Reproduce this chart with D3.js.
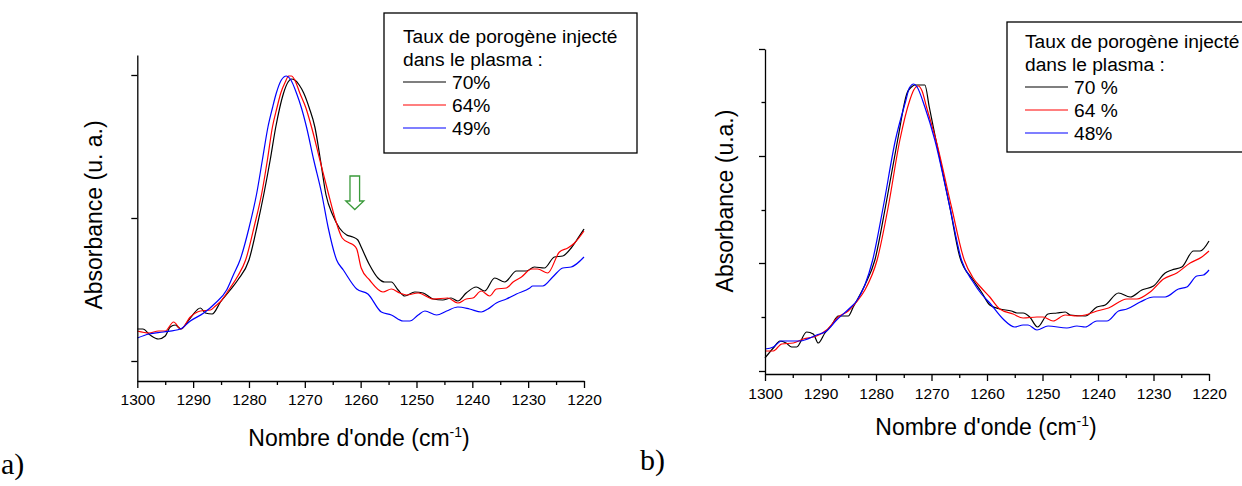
<!DOCTYPE html>
<html>
<head>
<meta charset="utf-8">
<script src="https://cdn.jsdelivr.net/npm/d3@7"></script>
<style>
  body { margin: 0; background: #fff; }
  svg { display: block; }
  text { font-family: "Liberation Sans", Arial, Helvetica, sans-serif; fill: #000; }
  text.letter { font-family: "Liberation Serif", "DejaVu Serif", serif; }
</style>
</head>
<body>
<svg id="chart" width="1242" height="486"></svg>
<script>
// ---- Panel a) : Si-CH3 band, three porogen loadings (70 %, 64 %, 49 %) ----
const aBlackWn  = [1300,1299,1297.7,1296.2,1295,1294.1,1293.2,1292.2,1290.5,1288.7,1287.8,1286.6,1285.1,1283.5,1282,1280,1278.5,1277.3,1276.2,1275.2,1274.5,1273.8,1273,1272.4,1271.8,1271,1270.2,1269.2,1268.2,1267.2,1266.2,1265,1263.8,1262.5,1261.4,1260.5,1259.9,1258.4,1256.9,1255.7,1254.5,1253.3,1252.1,1250.3,1248.8,1247,1245.3,1243.8,1242.6,1241.1,1239.3,1237.8,1236,1234.2,1232.1,1230.3,1228.9,1227.1,1225.3,1223.8,1222.3,1221.3,1220];
const aBlackAbs = [.052,.052,.046,.042,.045,.054,.056,.052,.063,.073,.068,.067,.079,.090,.101,.121,.156,.188,.221,.254,.273,.288,.299,.302,.301,.296,.288,.273,.254,.221,.186,.166,.153,.146,.144,.141,.134,.116,.103,.099,.099,.091,.085,.089,.088,.082,.081,.083,.080,.088,.094,.090,.103,.099,.110,.110,.114,.113,.124,.125,.133,.141,.152];

const aRedWn  = [1300,1297.9,1296.2,1295,1293.5,1292.2,1290.5,1288.7,1286.9,1286,1285,1283.5,1282,1280.6,1279,1277.7,1276.7,1275.8,1275,1274.3,1273.5,1272.9,1272.4,1271.8,1270.9,1269.8,1268.8,1267.3,1265.8,1264.5,1263.3,1262,1261.3,1260.7,1259.9,1258.4,1256,1254.5,1253,1251.8,1249.7,1247,1244.4,1242.6,1241.1,1239.9,1238.4,1236.9,1235.7,1233.9,1232.7,1231.2,1229.4,1228.3,1226.5,1224.4,1222.9,1221.7,1220];
const aRedAbs = [.050,.048,.050,.050,.059,.052,.064,.070,.071,.075,.080,.092,.105,.121,.156,.188,.221,.254,.273,.288,.299,.305,.305,.301,.288,.273,.254,.221,.188,.161,.143,.138,.136,.132,.113,.101,.089,.092,.088,.086,.088,.082,.083,.078,.082,.083,.090,.085,.092,.093,.099,.104,.112,.112,.108,.129,.133,.138,.150];

const aBlueWn  = [1300,1297.9,1295.3,1292.3,1290.5,1288.1,1286,1284,1282.8,1281.6,1280,1278.6,1277.6,1276.6,1275.8,1275.1,1274.2,1273.3,1272.6,1271.5,1270.6,1269.7,1268.4,1267,1265.8,1264.3,1263.1,1260.7,1258.7,1256.3,1254.5,1252.4,1251.2,1249.7,1248.5,1246.4,1244.6,1242.6,1240.5,1238.4,1237.2,1235.7,1233.9,1232.1,1229.7,1229.2,1227.4,1225.6,1223.8,1222.3,1220];
const aBlueAbs = [.043,.047,.049,.052,.060,.068,.078,.091,.106,.121,.153,.188,.221,.254,.273,.288,.301,.305,.302,.288,.273,.254,.221,.188,.153,.121,.111,.092,.087,.069,.066,.060,.060,.066,.070,.066,.070,.074,.072,.069,.072,.078,.082,.087,.093,.095,.095,.104,.113,.114,.124];

// ---- Panel b) : same band, porogen loadings 70 %, 64 %, 48 % ----
const bBlackWn  = [1300,1298.5,1297.3,1296.2,1295.2,1294.3,1292.5,1291.3,1290.4,1289.2,1288,1286.8,1285,1284.1,1283.2,1282,1280.2,1278.3,1276.1,1274.4,1273.6,1273,1271.2,1270.4,1269.2,1266.7,1264.9,1262.5,1261,1259.5,1257.7,1255.6,1254.6,1253.5,1252.3,1250.9,1249,1247.4,1245.9,1245,1242.3,1240.2,1238.7,1236.3,1234.2,1232.1,1230,1227.9,1226.7,1224.9,1222.8,1221.6,1220];
const bBlackAbs = [.016,.026,.033,.031,.027,.027,.042,.040,.031,.041,.049,.058,.058,.067,.076,.089,.114,.167,.234,.281,.287,.289,.289,.267,.234,.167,.117,.094,.082,.069,.065,.063,.061,.061,.057,.047,.060,.061,.062,.059,.058,.067,.069,.081,.077,.084,.088,.101,.104,.107,.123,.123,.133];

const bRedWn  = [1300,1298.5,1297,1294.9,1293.1,1290.7,1288.9,1286.8,1285,1283.5,1282,1279.8,1277.8,1275.7,1273.9,1273.2,1272.4,1271.7,1270.9,1269.2,1266.4,1264.1,1262.5,1261,1259.5,1257.7,1255.3,1253.5,1251,1249.9,1248.1,1245.9,1243.8,1242.3,1240.2,1238.1,1234.8,1233,1230.6,1228.2,1225.8,1223.4,1221.3,1220];
const bRedAbs = [.023,.023,.030,.031,.035,.038,.044,.057,.063,.072,.084,.114,.167,.234,.274,.284,.288,.283,.267,.234,.167,.114,.096,.086,.077,.065,.060,.056,.057,.057,.053,.059,.058,.059,.063,.066,.075,.075,.082,.095,.101,.111,.117,.123];

const bBlueWn  = [1300,1298.5,1297,1293.7,1290.7,1288.9,1287.1,1284.7,1283.5,1282,1280.6,1278.7,1276.5,1274.6,1274,1273.2,1272.6,1271.2,1269.4,1266.7,1264.6,1262.5,1261,1259.5,1257.1,1255,1253.5,1252.6,1251,1249,1245.6,1243.8,1242.3,1240.2,1238.4,1236.3,1234.8,1232.4,1230,1227.9,1225.5,1224,1222.2,1221,1220];
const bBlueAbs = [.025,.027,.033,.033,.039,.043,.054,.066,.073,.089,.114,.167,.234,.274,.286,.290,.287,.267,.234,.167,.114,.092,.080,.071,.055,.047,.049,.049,.044,.048,.046,.048,.047,.053,.053,.063,.065,.072,.077,.077,.085,.087,.098,.099,.104];

// Axis tick values
const wnMajorTicks = [1300,1290,1280,1270,1260,1250,1240,1230,1220];
const wnMinorTicks = [1295,1285,1275,1265,1255,1245,1235,1225];
const aAbsTicks = [0.020, 0.163, 0.306];
const bAbsMajorTicks = [0.003, 0.111, 0.218, 0.325];
const bAbsMinorTicks = [0.057, 0.164, 0.272];

// Legend texts
const legendTitle = ["Taux de porogène injecté", "dans le plasma :"];
const aLegendLabels = ["70%", "64%", "49%"];
const bLegendLabels = ["70 %", "64 %", "48%"];
const seriesColors = ["#000000", "#ff0000", "#0000ff"];

const svg = d3.select("#chart");

function drawPanel(p) {
  const g = svg.append("g");
  const x = d3.scaleLinear().domain([1300, 1220]).range(p.xRange);
  const y = d3.scaleLinear().domain(p.yDomain).range(p.yRange);

  // curves
  const line = d3.line()
    .x(d => x(d[0]))
    .y(d => y(d[1]))
    .curve(d3.curveMonotoneX);
  p.series.forEach((s, i) => {
    const pts = s.wn.map((w, k) => [w, s.abs[k]]);
    g.append("path")
      .attr("d", line(pts))
      .attr("fill", "none")
      .attr("stroke", seriesColors[i])
      .attr("stroke-width", 1.2)
      .attr("stroke-linejoin", "round");
  });

  // x axis: major with labels, minor without
  const xMajor = d3.axisBottom(x).tickValues(wnMajorTicks)
    .tickSize(7).tickSizeOuter(0).tickPadding(p.xPad).tickFormat(d3.format("d"));
  const xMinor = d3.axisBottom(x).tickValues(wnMinorTicks)
    .tickSize(4).tickSizeOuter(0).tickFormat("");
  const gx = g.append("g").attr("transform", `translate(0,${p.yRange[0]})`).call(xMajor);
  g.append("g").attr("transform", `translate(0,${p.yRange[0]})`).call(xMinor).select(".domain").remove();
  gx.selectAll("text").attr("font-size", 15.5).attr("font-family", null);

  // y axis
  const yMajor = d3.axisLeft(y).tickValues(p.yMajor).tickSize(6).tickSizeOuter(0).tickFormat("");
  g.append("g").attr("transform", `translate(${p.xRange[0]},0)`).call(yMajor);
  if (p.yMinor) {
    const yMinor = d3.axisLeft(y).tickValues(p.yMinor).tickSize(3.5).tickSizeOuter(0).tickFormat("");
    g.append("g").attr("transform", `translate(${p.xRange[0]},0)`).call(yMinor).select(".domain").remove();
  }
  g.selectAll(".domain, .tick line").attr("stroke", "#000").attr("stroke-width", 1.3);

  // x title with superscript
  const xt = g.append("text")
    .attr("x", p.xTitle[0]).attr("y", p.xTitle[1])
    .attr("text-anchor", "middle").attr("font-size", 23);
  xt.append("tspan").text("Nombre d'onde (cm");
  xt.append("tspan").attr("dy", -9).attr("font-size", 14).text("-1");
  xt.append("tspan").attr("dy", 9).text(")");

  // y title
  g.append("text")
    .attr("transform", `translate(${p.yTitle[0]},${p.yTitle[1]}) rotate(-90)`)
    .attr("text-anchor", "middle").attr("font-size", 23)
    .text(p.yLabel);

  // legend box
  const lg = g.append("g").attr("transform", `translate(${p.legend[0]},${p.legend[1]})`);
  lg.append("rect").attr("x", 0).attr("y", 0)
    .attr("width", p.legend[2]).attr("height", p.legend[3])
    .attr("fill", "#fff").attr("stroke", "#000").attr("stroke-width", 1.3);
  legendTitle.forEach((t, i) => {
    lg.append("text").attr("x", p.legendPad).attr("y", p.legendTop + i * 23)
      .attr("font-size", 19.2).text(t);
  });
  p.labels.forEach((t, i) => {
    const yy = p.legendTop + (i + 2) * 23;
    lg.append("line")
      .attr("x1", p.legendPad).attr("x2", p.legendPad + 43)
      .attr("y1", yy - 7).attr("y2", yy - 7)
      .attr("stroke", seriesColors[i]).attr("stroke-width", 1.2);
    lg.append("text").attr("x", p.legendPad + 49).attr("y", yy)
      .attr("font-size", 19.2).text(t);
  });

  // panel letter
  svg.append("text").attr("class", "letter")
    .attr("x", p.letter[0]).attr("y", p.letter[1])
    .attr("font-size", 30).text(p.letter[2]);

  return { x, y, g };
}

const pa = drawPanel({
  xRange: [137.3, 584], yDomain: [0, 0.326], yRange: [381, 55],
  yMajor: aAbsTicks, yMinor: null, xPad: 6,
  series: [
    { wn: aBlackWn, abs: aBlackAbs },
    { wn: aRedWn, abs: aRedAbs },
    { wn: aBlueWn, abs: aBlueAbs }
  ],
  xTitle: [359, 446], yTitle: [102, 215], yLabel: "Absorbance (u. a.)",
  legend: [384, 13, 253, 140], legendPad: 19, legendTop: 30, labels: aLegendLabels,
  letter: [1, 474, "a)"]
});

drawPanel({
  xRange: [765, 1209], yDomain: [0, 0.325], yRange: [374, 49],
  yMajor: bAbsMajorTicks, yMinor: bAbsMinorTicks, xPad: 7,
  series: [
    { wn: bBlackWn, abs: bBlackAbs },
    { wn: bRedWn, abs: bRedAbs },
    { wn: bBlueWn, abs: bBlueAbs }
  ],
  xTitle: [986, 435], yTitle: [733, 201], yLabel: "Absorbance (u.a.)",
  legend: [1007, 22, 245, 130], legendPad: 18, legendTop: 26, labels: bLegendLabels,
  letter: [640, 470, "b)"]
});

// hollow green arrow pointing down at the shoulder near 1261 cm-1 in panel a)
const ax = pa.x(1261.05);
const ay = pa.y(0.1715);
const arrow = d3.path();
arrow.moveTo(ax - 4.8, ay - 33.5);
arrow.lineTo(ax + 4.8, ay - 33.5);
arrow.lineTo(ax + 4.8, ay - 8.5);
arrow.lineTo(ax + 9, ay - 8.5);
arrow.lineTo(ax, ay);
arrow.lineTo(ax - 9, ay - 8.5);
arrow.lineTo(ax - 4.8, ay - 8.5);
arrow.closePath();
pa.g.append("path").attr("d", arrow.toString())
  .attr("fill", "#fff").attr("stroke", "#3a9a3a").attr("stroke-width", 1.3)
  .attr("stroke-linejoin", "miter");
</script>
</body>
</html>
